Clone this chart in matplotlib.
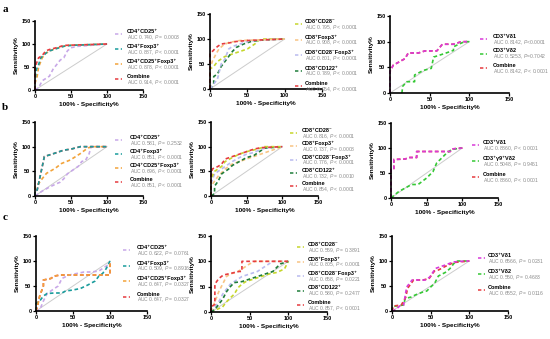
import matplotlib
matplotlib.use('Agg')
import matplotlib.pyplot as plt
from matplotlib.lines import Line2D

plt.rcParams['font.family'] = ['Liberation Sans', 'DejaVu Sans']
plt.rcParams['mathtext.fontset'] = 'custom'
plt.rcParams['mathtext.rm'] = 'Liberation Sans'
plt.rcParams['mathtext.it'] = 'Liberation Sans:italic'
plt.rcParams['mathtext.bf'] = 'Liberation Sans:bold'

W, H = 550, 339

# colours
LAV = '#c8a8e8'
TEAL = '#1a9c9c'
ORANGE = '#f2a33a'
RED = '#e63b3f'
YGREEN = '#c6d62c'
LORANGE = '#f8c484'
LBLUE = '#b9bbef'
DGREEN = '#1f7d3a'
MAGENTA = '#d83ad8'
GREEN = '#35c835'

DASH = (0, (2.2, 1.6))

# ---- row a ----
a1_cd25_x = [0, 5, 10, 15, 20, 25, 30, 35, 40, 45, 50, 60, 100]
a1_cd25_y = [0, 5, 20, 25, 30, 45, 55, 65, 70, 85, 92, 95, 100]
a1_foxp3_x = [0, 0, 2, 5, 8, 12, 15, 20, 30, 40, 50, 100]
a1_foxp3_y = [0, 20, 45, 55, 70, 75, 80, 85, 90, 95, 97, 100]
a1_cd25foxp3_x = [0, 0, 3, 5, 10, 15, 25, 35, 45, 100]
a1_cd25foxp3_y = [0, 15, 30, 50, 70, 80, 88, 93, 97, 100]
a1_comb_x = [0, 0, 3, 5, 10, 15, 20, 30, 40, 100]
a1_comb_y = [0, 50, 62, 70, 75, 85, 88, 92, 97, 100]

a2_cd28_x = [0, 0, 5, 10, 15, 20, 30, 40, 50, 60, 65, 70, 100]
a2_cd28_y = [0, 40, 45, 55, 60, 65, 70, 75, 80, 90, 97, 100, 100]
a2_foxp3_x = [0, 0, 3, 8, 12, 18, 25, 40, 100]
a2_foxp3_y = [0, 40, 55, 70, 80, 88, 93, 97, 100]
a2_cd28foxp3_x = [0, 5, 10, 15, 20, 25, 30, 40, 50, 60, 100]
a2_cd28foxp3_y = [0, 10, 20, 50, 60, 80, 85, 90, 95, 97, 100]
a2_cd122_x = [0, 5, 5, 10, 15, 20, 25, 30, 35, 45, 55, 70, 100]
a2_cd122_y = [0, 10, 25, 30, 45, 55, 65, 75, 83, 90, 95, 98, 100]
a2_comb_x = [0, 0, 5, 10, 15, 25, 35, 50, 100]
a2_comb_y = [0, 70, 78, 85, 90, 92, 95, 97, 100]

a3_vd1_x = [0, 0, 4, 12, 19, 23, 36, 44, 59, 66, 80, 90, 100]
a3_vd1_y = [0, 42, 54, 61, 67, 78, 78, 82, 82, 95, 95, 100, 100]
a3_vd2_x = [15, 16, 21, 31, 31, 42, 52, 55, 69, 80, 80, 88, 94, 100]
a3_vd2_y = [0, 13, 22, 22, 35, 44, 48, 70, 77, 83, 90, 96, 100, 100]
a3_comb_x = a3_vd1_x
a3_comb_y = a3_vd1_y

# ---- row b ----
b1_cd25_x = [0, 10, 20, 30, 35, 40, 45, 50, 55, 60, 65, 70, 75, 78, 100]
b1_cd25_y = [0, 10, 18, 25, 28, 35, 45, 50, 55, 60, 70, 72, 85, 100, 100]
b1_foxp3_x = [0, 0, 3, 7, 12, 13, 26, 40, 50, 63, 100]
b1_foxp3_y = [0, 10, 12, 39, 73, 80, 86, 93, 95, 100, 100]
b1_cd25foxp3_x = [0, 0, 5, 10, 16, 28, 37, 49, 63, 72, 78, 100]
b1_cd25foxp3_y = [0, 19, 25, 35, 46, 56, 66, 73, 86, 96, 100, 100]
b1_comb_x = b1_foxp3_x
b1_comb_y = b1_foxp3_y

b2_cd28_x = [0, 0, 5, 15, 20, 30, 40, 50, 65, 75, 100]
b2_cd28_y = [0, 35, 50, 60, 70, 78, 85, 90, 95, 100, 100]
b2_foxp3_x = [0, 0, 5, 10, 20, 30, 40, 50, 60, 70, 80, 90, 100]
b2_foxp3_y = [0, 20, 30, 40, 55, 65, 70, 75, 80, 85, 90, 95, 100]
b2_cd28foxp3_x = [0, 0, 5, 10, 20, 30, 40, 50, 60, 70, 80, 100]
b2_cd28foxp3_y = [0, 25, 45, 50, 60, 70, 78, 85, 88, 95, 98, 100]
b2_cd122_x = [0, 5, 5, 10, 15, 20, 25, 30, 40, 50, 60, 70, 75, 100]
b2_cd122_y = [0, 5, 20, 30, 45, 50, 55, 62, 70, 78, 82, 92, 97, 100]
b2_comb_x = [0, 0, 2, 10, 15, 20, 30, 40, 50, 60, 70, 100]
b2_comb_y = [0, 40, 55, 60, 65, 75, 80, 85, 90, 95, 98, 100]

b3_vd1_x = [0, 0, 4, 4, 20, 25, 36, 36, 83, 85, 100]
b3_vd1_y = [0, 57, 57, 77, 78, 81, 81, 93, 93, 98, 100]
b3_vd2_x = [0, 4, 11, 20, 29, 38, 50, 59, 64, 69, 76, 85, 99]
b3_vd2_y = [0, 5, 13, 20, 27, 27, 40, 53, 70, 77, 87, 97, 100]
b3_comb_x = b3_vd1_x
b3_comb_y = b3_vd1_y

# ---- row c ----
c1_cd25_x = [0, 5, 10, 15, 20, 25, 30, 35, 45, 55, 65, 75, 85, 90, 95, 100]
c1_cd25_y = [0, 2, 20, 35, 40, 45, 50, 65, 72, 75, 78, 78, 80, 85, 90, 95]
c1_foxp3_x = [0, 0, 5, 10, 15, 25, 35, 40, 50, 60, 70, 80, 85, 90, 95, 100]
c1_foxp3_y = [0, 15, 20, 30, 35, 36, 36, 40, 42, 45, 52, 60, 70, 75, 85, 100]
c1_cd25foxp3_x = [0, 2, 5, 10, 10, 20, 25, 33, 100, 100]
c1_cd25foxp3_y = [0, 10, 30, 50, 62, 65, 70, 72, 72, 100]
c1_comb_x = c1_cd25foxp3_x
c1_comb_y = c1_cd25foxp3_y

c2_cd28_x = [0, 15, 20, 25, 30, 35, 40, 45, 55, 65, 75, 85, 95, 100]
c2_cd28_y = [0, 10, 20, 28, 35, 48, 55, 60, 65, 70, 75, 78, 85, 100]
c2_foxp3_x = [0, 5, 10, 15, 20, 25, 35, 40, 45, 50, 57, 100]
c2_foxp3_y = [0, 20, 40, 55, 70, 75, 80, 85, 90, 95, 100, 100]
c2_cd28foxp3_x = [0, 10, 15, 20, 25, 30, 40, 50, 60, 70, 75, 80, 100]
c2_cd28foxp3_y = [0, 20, 35, 45, 55, 60, 70, 75, 80, 90, 95, 100, 100]
c2_cd122_x = [0, 5, 10, 15, 20, 25, 30, 40, 50, 60, 70, 80, 85, 90, 100]
c2_cd122_y = [0, 5, 15, 25, 40, 50, 58, 60, 65, 70, 75, 80, 88, 95, 100]
c2_comb_x = [0, 0, 5, 5, 10, 16, 25, 36, 40, 40, 100]
c2_comb_y = [0, 10, 15, 55, 66, 73, 76, 80, 80, 100, 100]

c3_vd1_x = [0, 5, 10, 15, 19, 26, 43, 49, 56, 69, 79, 94, 100]
c3_vd1_y = [0, 3, 10, 12, 48, 62, 62, 68, 85, 92, 98, 100, 100]
c3_vd2_x = [0, 0, 5, 15, 17, 25, 30, 40, 45, 50, 55, 60, 70, 75, 80, 85, 100]
c3_vd2_y = [0, 8, 10, 12, 25, 28, 32, 38, 40, 48, 55, 70, 78, 85, 95, 100, 100]
c3_comb_x = [0, 2, 12, 18, 20, 28, 40, 48, 55, 60, 70, 80, 100]
c3_comb_y = [0, 10, 12, 28, 45, 62, 62, 65, 80, 82, 90, 97, 100]

# legend texts
names_cd4 = ['CD4⁺CD25⁺', 'CD4⁺Foxp3⁺', 'CD4⁺CD25⁺Foxp3⁺', 'Combine']
names_cd8 = ['CD8⁺CD28⁻', 'CD8⁺Foxp3⁺', 'CD8⁺CD28⁻Foxp3⁺', 'CD8⁺CD122⁺', 'Combine']
names_vd_a = ['CD3⁺Vδ1', 'CD3⁺Vδ2', 'Combine']
names_vd_b = ['CD3⁺Vδ1', 'CD3⁺γ9⁺Vδ2', 'Combine']

auc_a1 = ['AUC 0.740, $\\it{P}$ = 0.0003', 'AUC 0.887, $\\it{P}$ < 0.0001',
          'AUC 0.878, $\\it{P}$ < 0.0001', 'AUC 0.914, $\\it{P}$ < 0.0001']
auc_a2 = ['AUC 0.795, $\\it{P}$ < 0.0001', 'AUC 0.908, $\\it{P}$ < 0.0001',
          'AUC 0.801, $\\it{P}$ < 0.0001', 'AUC 0.789, $\\it{P}$ < 0.0001',
          'AUC 0.954, $\\it{P}$ < 0.0001']
auc_a3 = ['AUC 0.8142, $\\it{P}$<0.0001', 'AUC 0.5253, $\\it{P}$=0.7042',
          'AUC 0.8142, $\\it{P}$ < 0.0001']
auc_b1 = ['AUC 0.581, $\\it{P}$ = 0.2532', 'AUC 0.851, $\\it{P}$ < 0.0001',
          'AUC 0.696, $\\it{P}$ < 0.0001', 'AUC 0.851, $\\it{P}$ < 0.0001']
auc_b2 = ['AUC 0.816, $\\it{P}$ < 0.0001', 'AUC 0.737, $\\it{P}$ = 0.0008',
          'AUC 0.776, $\\it{P}$ < 0.0001', 'AUC 0.732, $\\it{P}$ = 0.0010',
          'AUC 0.854, $\\it{P}$ < 0.0001']
auc_b3 = ['AUC 0.8860, $\\it{P}$ < 0.0001', 'AUC 0.5048, $\\it{P}$ = 0.9461',
          'AUC 0.8860, $\\it{P}$ < 0.0001']
auc_c1 = ['AUC 0.622, $\\it{P}$ = 0.0761', 'AUC 0.509, $\\it{P}$ = 0.8916',
          'AUC 0.647, $\\it{P}$ = 0.0327', 'AUC 0.647, $\\it{P}$ = 0.0327']
auc_c2 = ['AUC 0.559, $\\it{P}$ = 0.3891', 'AUC 0.805, $\\it{P}$ < 0.0001',
          'AUC 0.658, $\\it{P}$ = 0.0221', 'AUC 0.580, $\\it{P}$ = 0.2477',
          'AUC 0.857, $\\it{P}$ < 0.0001']
auc_c3 = ['AUC 0.6566, $\\it{P}$ = 0.0231', 'AUC 0.550, $\\it{P}$ = 0.4683',
          'AUC 0.6552, $\\it{P}$ = 0.0116']

fig = plt.figure(figsize=(W / 100, H / 100), dpi=100)


def px_axes(l, t, r, b):
    return fig.add_axes([l / W, 1 - b / H, (r - l) / W, (b - t) / H])


def roc_axes(ax, curves):
    ax.plot([0, 100], [0, 100], color='#cccccc', lw=0.7, zorder=1)
    for x, y, c in curves:
        ax.plot(x, y, color=c, lw=1.2, ls=DASH, zorder=2, clip_on=False)
    ax.set_xlim(0, 150)
    ax.set_ylim(0, 150)
    ax.set_xticks([0, 50, 100, 150])
    ax.set_yticks([0, 50, 100, 150])
    for s in ['top', 'right']:
        ax.spines[s].set_visible(False)
    for s in ['left', 'bottom']:
        ax.spines[s].set_linewidth(1.2)
    ax.tick_params(length=2, width=0.9, pad=1.2, labelsize=4)
    for lab in ax.get_xticklabels() + ax.get_yticklabels():
        lab.set_fontweight('bold')
    ax.set_xlabel('100% - Specificity%', fontsize=4.6, fontweight='bold', labelpad=2)
    ax.set_ylabel('Sensitivity%', fontsize=4.6, fontweight='bold', labelpad=1.5)


def legend(names, aucs, colors, xs, xt, y0, dy):
    for i, (n, a, c) in enumerate(zip(names, aucs, colors)):
        y = y0 + i * dy
        fig.add_artist(Line2D([xs / W, (xs + 7) / W], [1 - y / H, 1 - y / H],
                              transform=fig.transFigure, color=c, lw=1.1,
                              ls=DASH))
        fig.text(xt / W, 1 - (y - 2.6) / H, n, fontsize=4.0, fontweight='bold',
                 va='center', ha='left')
        fig.text(xt / W, 1 - (y + 3.4) / H, a, fontsize=3.6, color='#8a8a8a',
                 va='center', ha='left')


cols_cd4 = [LAV, TEAL, ORANGE, RED]
cols_cd8 = [YGREEN, LORANGE, LBLUE, DGREEN, RED]
cols_vd = [MAGENTA, GREEN, RED]

# row a
ax = px_axes(35, 21, 143, 90)
roc_axes(ax, [(a1_cd25_x, a1_cd25_y, LAV), (a1_cd25foxp3_x, a1_cd25foxp3_y, ORANGE),
              (a1_foxp3_x, a1_foxp3_y, TEAL), (a1_comb_x, a1_comb_y, RED)])
legend(names_cd4, auc_a1, cols_cd4, 115, 127, 34, 15)

ax = px_axes(210, 14, 322, 89)
roc_axes(ax, [(a2_cd28_x, a2_cd28_y, YGREEN), (a2_cd122_x, a2_cd122_y, DGREEN),
              (a2_cd28foxp3_x, a2_cd28foxp3_y, LBLUE), (a2_foxp3_x, a2_foxp3_y, LORANGE),
              (a2_comb_x, a2_comb_y, RED)])
legend(names_cd8, auc_a2, cols_cd8, 295, 305, 24, 15.6)

ax = px_axes(390, 16, 509, 93)
roc_axes(ax, [(a3_comb_x, a3_comb_y, RED), (a3_vd2_x, a3_vd2_y, GREEN),
              (a3_vd1_x, a3_vd1_y, MAGENTA)])
legend(names_vd_a, auc_a3, cols_vd, 480, 493, 39, 14.5)

# row b
ax = px_axes(35, 122, 143, 196)
roc_axes(ax, [(b1_cd25_x, b1_cd25_y, LAV), (b1_cd25foxp3_x, b1_cd25foxp3_y, ORANGE),
              (b1_comb_x, b1_comb_y, RED), (b1_foxp3_x, b1_foxp3_y, TEAL)])
legend(names_cd4, auc_b1, cols_cd4, 115, 130, 140, 14)

ax = px_axes(211, 122, 318, 196)
roc_axes(ax, [(b2_foxp3_x, b2_foxp3_y, LORANGE), (b2_cd122_x, b2_cd122_y, DGREEN),
              (b2_cd28foxp3_x, b2_cd28foxp3_y, LBLUE), (b2_cd28_x, b2_cd28_y, YGREEN),
              (b2_comb_x, b2_comb_y, RED)])
legend(names_cd8, auc_b2, cols_cd8, 290, 302, 133, 13.3)

ax = px_axes(391, 123, 498, 198)
roc_axes(ax, [(b3_comb_x, b3_comb_y, RED), (b3_vd2_x, b3_vd2_y, GREEN),
              (b3_vd1_x, b3_vd1_y, MAGENTA)])
legend(names_vd_b, auc_b3, cols_vd, 472, 483, 145, 16)

# row c
ax = px_axes(36, 236, 147, 311)
roc_axes(ax, [(c1_comb_x, c1_comb_y, RED), (c1_cd25_x, c1_cd25_y, LAV),
              (c1_foxp3_x, c1_foxp3_y, TEAL), (c1_cd25foxp3_x, c1_cd25foxp3_y, ORANGE)])
legend(names_cd4, auc_c1, cols_cd4, 123, 137, 250, 15.6)

ax = px_axes(211, 236, 327, 312)
roc_axes(ax, [(c2_cd28_x, c2_cd28_y, YGREEN), (c2_cd28foxp3_x, c2_cd28foxp3_y, LBLUE),
              (c2_foxp3_x, c2_foxp3_y, LORANGE), (c2_cd122_x, c2_cd122_y, DGREEN),
              (c2_comb_x, c2_comb_y, RED)])
legend(names_cd8, auc_c2, cols_cd8, 297, 308, 247, 14.5)

ax = px_axes(392, 236, 508, 311)
roc_axes(ax, [(c3_vd2_x, c3_vd2_y, GREEN), (c3_comb_x, c3_comb_y, RED),
              (c3_vd1_x, c3_vd1_y, MAGENTA)])
legend(names_vd_a, auc_c3, cols_vd, 478, 488, 258, 16)

# panel letters
for lab, y in [('a', 10), ('b', 107), ('c', 217)]:
    fig.text(5 / W, 1 - y / H, lab, fontsize=8, fontweight='bold',
             family='Liberation Serif', ha='center', va='center')

fig.savefig('out.png', dpi=100)
